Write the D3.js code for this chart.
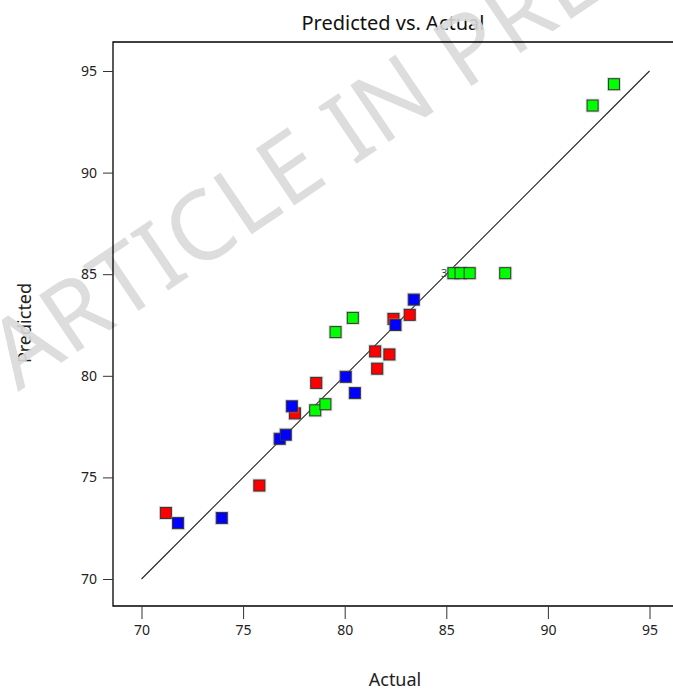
<!DOCTYPE html>
<html>
<head>
<meta charset="utf-8">
<script src="https://cdn.jsdelivr.net/npm/d3@7"></script>
<style>
  body { margin: 0; background: #fff; }
  svg { display: block; font-family: "Noto Sans", "Open Sans", sans-serif; }
</style>
</head>
<body>
<div id="chart"></div>
<script>
const WIDTH = 673; // page width
const HEIGHT = 692; // page height

// actual / predicted values, one list per colour group
const redActual = [71.2, 75.8, 77.55, 78.6, 81.5, 81.6, 82.2, 82.4, 83.2];
const redPred = [73.25, 74.6, 78.15, 79.65, 81.2, 80.35, 81.05, 82.8, 83.0];
const greenActual = [92.2, 93.25, 85.35, 85.7, 86.15, 87.9, 80.4, 79.55, 78.55, 79.05];
const greenPred = [93.3, 94.35, 85.05, 85.05, 85.05, 85.05, 82.85, 82.15, 78.3, 78.6];
const blueActual = [71.8, 73.95, 76.8, 77.1, 77.4, 80.05, 80.5, 82.5, 83.4];
const bluePred = [72.75, 73.0, 76.9, 77.1, 78.5, 79.95, 79.15, 82.5, 83.75];
const ticks = [70, 75, 80, 85, 90, 95];
const fitLine = [70, 95]; // y = x reference line

const margin = {top: 42, left: 113, bottom: 86, right: -8}; // right edge runs off the page

const svg = d3.select("#chart").append("svg")
  .attr("width", WIDTH)
  .attr("height", HEIGHT);

const x = d3.scaleLinear()
  .domain([70, 95])
  .range([141.5, 649.5]);
const y = d3.scaleLinear()
  .domain([70, 95])
  .range([579, 71]);

// title
svg.append("text")
  .attr("x", 393).attr("y", 30)
  .attr("text-anchor", "middle")
  .attr("font-size", 20)
  .attr("fill", "#111")
  .text("Predicted vs. Actual");

svg.append("text")
  .attr("transform", "translate(31,323) rotate(-90)")
  .attr("text-anchor", "middle")
  .attr("font-size", 18)
  .attr("fill", "#222")
  .text("Predicted");

// watermark, sits over the title
svg.append("text")
  .attr("transform", "translate(18,392) rotate(-34)")
  .attr("font-size", 96)
  .attr("font-weight", 400)
  .attr("fill", "#d9d9d9")
  .attr("fill-opacity", 0.9)
  .attr("letter-spacing", 1)
  .text("ARTICLE IN PRESS");

const plotBottom = HEIGHT - margin.bottom;
const plotRight = WIDTH - margin.right;

// frame: top, left, bottom (no right edge visible)
svg.append("path")
  .attr("d", `M${plotRight},${margin.top}H${margin.left}V${plotBottom}H${plotRight}`)
  .attr("fill", "none")
  .attr("stroke", "#000")
  .attr("stroke-width", 1.3);

// x axis
const xAxis = svg.append("g")
  .attr("transform", `translate(0,${plotBottom})`)
  .call(d3.axisBottom(x).tickValues(ticks).tickSize(13).tickPadding(6));
xAxis.select(".domain").remove();
xAxis.selectAll("line").attr("stroke", "#333");
xAxis.selectAll("text").attr("font-size", 14).attr("fill", "#222")
  .attr("font-family", "Noto Sans, sans-serif");

// y axis
const yAxis = svg.append("g")
  .attr("transform", `translate(${margin.left},0)`)
  .call(d3.axisLeft(y).tickValues(ticks).tickSize(10).tickPadding(6));
yAxis.select(".domain").remove();
yAxis.selectAll("line").attr("stroke", "#333");
yAxis.selectAll("text").attr("font-size", 14).attr("fill", "#222")
  .attr("font-family", "Noto Sans, sans-serif");

// axis title
svg.append("text")
  .attr("x", 395).attr("y", 686)
  .attr("text-anchor", "middle")
  .attr("font-size", 18)
  .attr("fill", "#222")
  .text("Actual");

// reference line
svg.append("line")
  .attr("x1", x(fitLine[0])).attr("y1", y(fitLine[0]))
  .attr("x2", x(fitLine[1])).attr("y2", y(fitLine[1]))
  .attr("stroke", "#222")
  .attr("stroke-width", 1.1);

// "3" label for the coincident points at 85
svg.append("text")
  .attr("x", x(85.35) - 6).attr("y", y(85.05) + 4)
  .attr("text-anchor", "end")
  .attr("font-size", 11)
  .attr("fill", "#444")
  .text("3");

const groups = [
  {color: "#ff0000", xs: redActual, ys: redPred},
  {color: "#00ff00", xs: greenActual, ys: greenPred},
  {color: "#0000ff", xs: blueActual, ys: bluePred}
];

const S = 11; // square size
groups.forEach(g => {
  const pts = g.xs.map((v, i) => [v, g.ys[i]]);
  const grp = svg.append("g");
  grp.selectAll(".halo")
    .data(pts)
    .enter()
    .append("rect")
    .attr("x", d => x(d[0]) - S / 2 - 1.5)
    .attr("y", d => y(d[1]) - S / 2 - 1.5)
    .attr("width", S + 3).attr("height", S + 3)
    .attr("fill", "#999")
    .attr("fill-opacity", 0.35);
  grp.selectAll(".pt")
    .data(pts)
    .enter()
    .append("rect")
    .attr("x", d => x(d[0]) - S / 2)
    .attr("y", d => y(d[1]) - S / 2)
    .attr("width", S).attr("height", S)
    .attr("fill", g.color)
    .attr("stroke", "#333")
    .attr("stroke-width", 1);
});
</script>
</body>
</html>
